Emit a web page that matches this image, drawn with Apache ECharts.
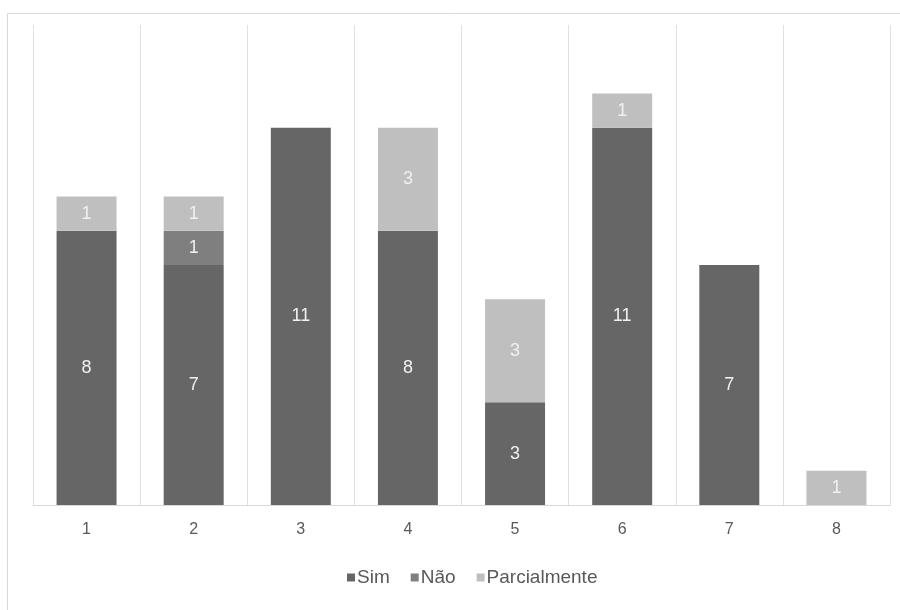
<!DOCTYPE html>
<html>
<head>
<meta charset="utf-8">
<script src="https://cdn.jsdelivr.net/npm/echarts@6/dist/echarts.min.js"></script>
<style>
  html, body { margin: 0; padding: 0; background: #fff; }
  #chart { width: 900px; height: 610px; }
</style>
</head>
<body>
<div id="chart"></div>
<script>
// Categories and stacked series values (null = no segment)
const categories = ['1', '2', '3', '4', '5', '6', '7', '8'];
const sim = [8, 7, 11, 8, 3, 11, 7, null];
const nao = [null, 1, null, null, null, null, null, null];
const parcialmente = [1, 1, null, 3, 3, 1, null, 1];

const FONT = '"Liberation Sans", Arial, sans-serif';

function stackSeries(name, data, color) {
  return {
    name: name,
    type: 'bar',
    stack: 'total',
    data: data,
    barWidth: '56%',
    itemStyle: { color: color },
    label: {
      show: true,
      position: 'inside',
      color: '#f0f0f0',
      fontSize: 18,
      fontFamily: FONT
    }
  };
}

const chart = echarts.init(document.getElementById('chart'), null, { renderer: 'canvas' });
chart.setOption({
  animation: false,
  backgroundColor: '#fff',
  graphic: [{
    type: 'rect',
    shape: { x: 7.5, y: 13.5, width: 1000, height: 1000 },
    style: { fill: 'none', stroke: '#d9d9d9', lineWidth: 1 },
    silent: true,
    z: -1
  }],
  grid: { left: 33, right: 10, top: 25, bottom: 105, containLabel: false },
  legend: {
    top: 563,
    left: 342,
    icon: 'rect',
    itemWidth: 8,
    itemHeight: 8,
    itemGap: 21,
    textStyle: { color: '#595959', fontSize: 19, fontFamily: FONT, padding: [0, 0, 0, -3] },
    data: ['Sim', 'Não', 'Parcialmente']
  },
  xAxis: {
    type: 'category',
    data: categories,
    boundaryGap: true,
    axisLine: { lineStyle: { color: '#d9d9d9' } },
    axisTick: { show: false },
    axisLabel: { color: '#595959', fontSize: 16, fontFamily: FONT, margin: 17 },
    splitLine: { show: true, lineStyle: { color: '#e0e0e0', width: 1 } }
  },
  yAxis: {
    type: 'value',
    min: 0,
    max: 14,
    show: false,
    splitLine: { show: false }
  },
  series: [
    stackSeries('Sim', sim, '#666666'),
    stackSeries('Não', nao, '#7f7f7f'),
    stackSeries('Parcialmente', parcialmente, '#bfbfbf')
  ]
});
</script>
</body>
</html>
